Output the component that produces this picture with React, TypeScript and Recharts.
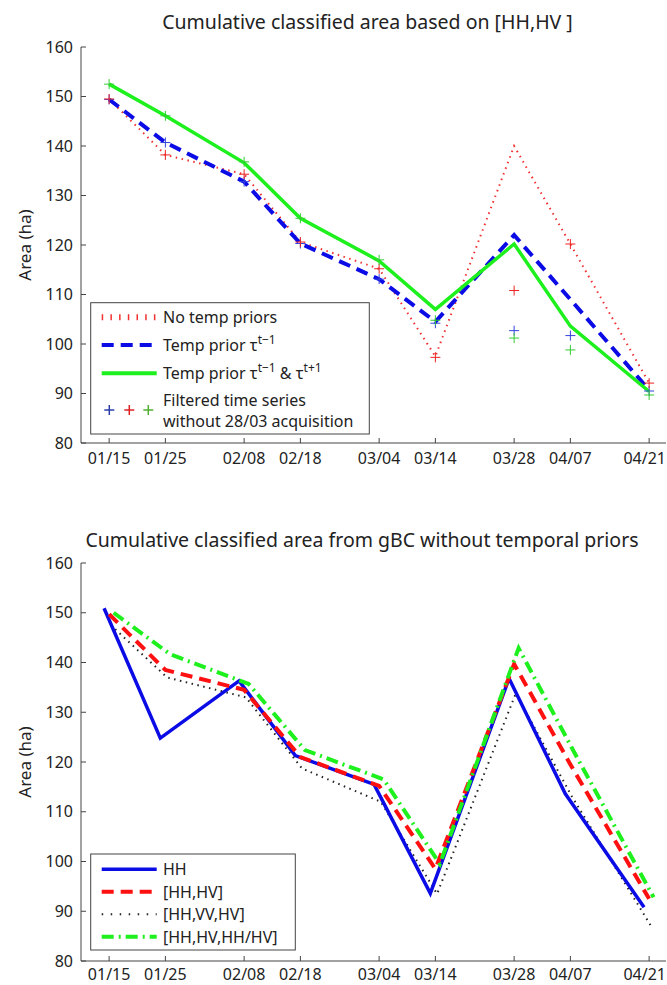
import React from 'react'
import { LineChart, Line, XAxis, YAxis } from 'recharts'

// acquisition dates (label + day of year, the axis is linear in days)
const dates = ['01/15', '01/25', '02/08', '02/18', '03/04', '03/14', '03/28', '04/07', '04/21']
const days = [15, 25, 39, 49, 63, 73, 87, 97, 111]
const yTicks = [80, 90, 100, 110, 120, 130, 140, 150, 160]

// top panel: [HH,HV] with / without temporal priors
const noPriors = [149.5, 138.2, 134.3, 120.6, 115.2, 97.5, 140.0, 120.2, 92.1]
const priorPrev = [149.4, 140.7, 132.8, 120.3, 113.1, 104.5, 122.0, 109.0, 90.7]
const priorBoth = [152.5, 146.1, 136.6, 125.4, 116.8, 107.0, 120.2, 103.6, 90.4]
// filtered series without the 28/03 acquisition (+ markers)
const filtPrev = [149.4, 140.7, 132.8, 120.3, 113.1, 104.2, 102.7, 101.7, 90.5]
const filtNoPriors = [149.5, 138.2, 134.3, 120.6, 115.2, 97.3, 110.8, 120.2, 92.1]
const filtBoth = [152.5, 146.1, 136.8, 125.4, 117.0, 104.8, 101.2, 98.8, 89.7]

// bottom panel: gBC without temporal priors
const hh = [150.9, 124.8, 136.3, 121.3, 115.5, 93.6, 136.8, 113.6, 90.8]
const hhHv = [149.7, 138.5, 134.5, 121.0, 115.2, 98.5, 139.7, 119.5, 92.5]
const hhVvHv = [147.5, 137.0, 133.0, 118.7, 112.0, 93.5, 133.8, 113.0, 87.1]
const hhHvRatio = [150.0, 141.7, 135.7, 122.4, 116.5, 99.5, 142.9, 121.7, 92.8]

// small horizontal shift (in days) each bottom series is drawn with
const shift = { hh: -0.9, hhHv: 0, hhVvHv: 0.3, hhHvRatio: 0.8 }

const FONT = '"Noto Sans", sans-serif'
const AXIS = '#444'
const TXT = '#222'

const topData = days.map((d, i) => ({
  x: d,
  noPriors: noPriors[i],
  priorPrev: priorPrev[i],
  priorBoth: priorBoth[i],
  filtPrev: filtPrev[i],
  filtNoPriors: filtNoPriors[i],
  filtBoth: filtBoth[i],
}))

const shifted = (vals: number[], s: number) => days.map((d, i) => ({ x: d + s, y: vals[i] }))

const XTick = (props: any) => {
  const { x, y, payload, off = 21 } = props
  const i = days.indexOf(payload.value)
  const last = i === days.length - 1
  return (
    <g>
      <line x1={x} y1={y} x2={x} y2={y - 5} stroke={AXIS} />
      <text
        x={last ? 666 : x}
        y={y + off}
        textAnchor={last ? 'end' : 'middle'}
        fontSize={16}
        fill={TXT}
        fontFamily={FONT}
      >
        {dates[i]}
      </text>
    </g>
  )
}

const YTick = (props: any) => {
  const { x, y, payload } = props
  return (
    <g>
      <line x1={x} y1={y} x2={x + 5} y2={y} stroke={AXIS} />
      <text x={x - 8} y={y + 5.5} textAnchor="end" fontSize={16} fill={TXT} fontFamily={FONT}>
        {payload.value}
      </text>
    </g>
  )
}

const plusDot = (color: string) => (p: any) => {
  const { cx, cy, index } = p
  if (cx == null || cy == null) return <g key={index} />
  return (
    <path
      key={index}
      d={`M${cx - 5},${cy}H${cx + 5}M${cx},${cy - 5}V${cy + 5}`}
      stroke={color}
      strokeWidth={1}
      fill="none"
    />
  )
}

const xAxis = (off: number) => (
  <XAxis
    type="number"
    dataKey="x"
    domain={[10, 114]}
    ticks={days}
    interval={0}
    height={1}
    tickSize={0}
    tickMargin={0}
    tickLine={false}
    tick={<XTick off={off} />}
    stroke={AXIS}
    allowDataOverflow
    allowDuplicatedCategory={false}
  />
)
const yAxis = (
  <YAxis
    type="number"
    domain={[80, 160]}
    ticks={yTicks}
    interval={0}
    width={1}
    tickSize={0}
    tickMargin={0}
    tickLine={false}
    tick={<YTick />}
    stroke={AXIS}
    allowDataOverflow
  />
)

function TopChart() {
  return (
    <LineChart width={667} height={490} data={topData} margin={{ top: 47, right: 1, bottom: 46, left: 80 }}>
      {xAxis(21)}
      {yAxis}
      <Line type="linear" dataKey="noPriors" stroke="#f03030" strokeWidth={2} strokeDasharray="1.5 4.5" dot={false} activeDot={false} isAnimationActive={false} />
      <Line type="linear" dataKey="priorPrev" stroke="#0b0be6" strokeWidth={4} strokeDasharray="12 7" dot={false} activeDot={false} isAnimationActive={false} />
      <Line type="linear" dataKey="priorBoth" stroke="#1ef01e" strokeWidth={3.5} dot={false} activeDot={false} isAnimationActive={false} />
      <Line type="linear" dataKey="filtPrev" stroke="none" dot={plusDot('#3344dd')} activeDot={false} isAnimationActive={false} />
      <Line type="linear" dataKey="filtNoPriors" stroke="none" dot={plusDot('#ee2222')} activeDot={false} isAnimationActive={false} />
      <Line type="linear" dataKey="filtBoth" stroke="none" dot={plusDot('#33cc33')} activeDot={false} isAnimationActive={false} />
    </LineChart>
  )
}

function BottomChart() {
  return (
    <LineChart width={667} height={485} margin={{ top: 63, right: 1, bottom: 23, left: 80 }}>
      {xAxis(18.5)}
      {yAxis}
      <Line data={shifted(hhVvHv, shift.hhVvHv)} type="linear" dataKey="y" stroke="#222" strokeWidth={2} strokeDasharray="1.5 4.5" dot={false} activeDot={false} isAnimationActive={false} />
      <Line data={shifted(hh, shift.hh)} type="linear" dataKey="y" stroke="#0b0be6" strokeWidth={3.5} dot={false} activeDot={false} isAnimationActive={false} />
      <Line data={shifted(hhHv, shift.hhHv)} type="linear" dataKey="y" stroke="#ff1010" strokeWidth={4} strokeDasharray="12 7" dot={false} activeDot={false} isAnimationActive={false} />
      <Line data={shifted(hhHvRatio, shift.hhHvRatio)} type="linear" dataKey="y" stroke="#1ef01e" strokeWidth={4} strokeDasharray="12 5 2 5" dot={false} activeDot={false} isAnimationActive={false} />
    </LineChart>
  )
}

const Sup = ({ children }: { children: React.ReactNode }) => (
  <tspan dy={-7} fontSize={12}>{children}</tspan>
)

function Overlay() {
  const sample = (y: number, stroke: string, w: number, dash?: string) => (
    <line x1={101.7} x2={156.7} y1={y} y2={y} stroke={stroke} strokeWidth={w} strokeDasharray={dash} />
  )
  return (
    <svg width={667} height={985} style={{ position: 'absolute', left: 0, top: 0, pointerEvents: 'none' }} fontFamily={FONT} fill={TXT}>
      <text x={367.5} y={29} textAnchor="middle" fontSize={19.5}>Cumulative classified area based on [HH,HV ]</text>
      <text x={362} y={547} textAnchor="middle" fontSize={19.5}>Cumulative classified area from gBC without temporal priors</text>
      <text x={31} y={245} textAnchor="middle" fontSize={17} transform="rotate(-90 31 245)">Area (ha)</text>
      <text x={31} y={762} textAnchor="middle" fontSize={17} transform="rotate(-90 31 762)">Area (ha)</text>

      {/* top legend */}
      <rect x={90.7} y={302.7} width={278.6} height={131.3} fill="#fff" stroke={AXIS} />
      {sample(317.3, '#f03030', 6, '1.5 7.2')}
      {sample(345, '#0b0be6', 4, '12 7')}
      {sample(373.3, '#1ef01e', 4)}
      <path d="M104.3,410H114.3M109.3,405V415" stroke="#2b3fa8" strokeWidth={1.5} />
      <path d="M124.3,410H134.3M129.3,405V415" stroke="#e02020" strokeWidth={1.5} />
      <path d="M143.3,410H153.3M148.3,405V415" stroke="#50b030" strokeWidth={1.5} />
      <g fontSize={16}>
        <text x={163} y={323}>No temp priors</text>
        <text x={163} y={351}>Temp prior τ<Sup>t−1</Sup></text>
        <text x={163} y={379}>Temp prior τ<Sup>t−1</Sup><tspan dy={7} fontSize={16}> &amp; τ</tspan><Sup>t+1</Sup></text>
        <text x={163} y={406}>Filtered time series</text>
        <text x={163} y={427}>without 28/03 acquisition</text>
      </g>

      {/* bottom legend */}
      <rect x={90.7} y={854} width={204.6} height={96} fill="#fff" stroke={AXIS} />
      {sample(869.3, '#0b0be6', 3.5)}
      {sample(891.7, '#ff1010', 4, '12 7')}
      {sample(914.3, '#222', 2, '1.5 7.5')}
      {sample(936.7, '#1ef01e', 4, '12 5 2 5')}
      <g fontSize={16}>
        <text x={163} y={875}>HH</text>
        <text x={163} y={897.5}>[HH,HV]</text>
        <text x={163} y={920}>[HH,VV,HV]</text>
        <text x={163} y={942.5}>[HH,HV,HH/HV]</text>
      </g>
    </svg>
  )
}

export default function App() {
  return (
    <div style={{ position: 'absolute', left: 0, top: 0, width: 667, height: 985, overflow: 'hidden', background: '#fff', fontFamily: FONT }}>
      <div style={{ position: 'absolute', left: 0, top: 0 }}>
        <TopChart />
      </div>
      <div style={{ position: 'absolute', left: 0, top: 500 }}>
        <BottomChart />
      </div>
      <Overlay />
    </div>
  )
}
